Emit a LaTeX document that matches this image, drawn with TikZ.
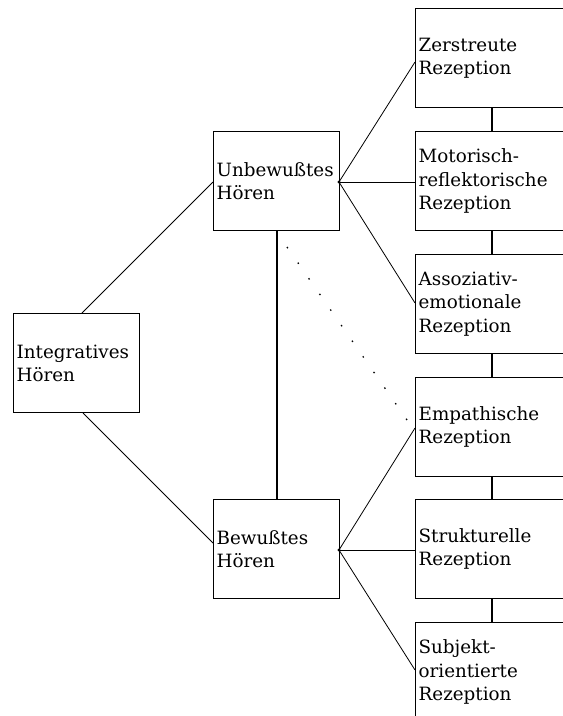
\documentclass[tikz,border=0pt]{standalone}
\usepackage{fontspec}
\setmainfont{DejaVu Serif}
\begin{document}
\begin{tikzpicture}[x=1pt,y=-1pt,
  box/.style={draw, line width=1.3pt, anchor=north west, minimum width=126pt, minimum height=99pt,
    text width=120pt, inner sep=3pt, align=left, font=\fontsize{18.3}{23.5}\selectfont},
  rbox/.style={box, minimum width=170pt, text width=164pt},
  thin/.style={line width=0.8pt},
  thick/.style={line width=1.3pt}]
\useasboundingbox (0,0) rectangle (563,716);
\begin{scope}
\clip (0,0) rectangle (563,716);
\node[box] (int) at (13,313) {Integratives\\Hören};
\node[box] (unb) at (213,131) {Unbewußtes\\Hören};
\node[box] (bew) at (213,499) {Bewußtes\\Hören};
\node[rbox] (zer) at (415,8) {Zerstreute\\Rezeption};
\node[rbox] (mot) at (415,131) {Motorisch-\\reflektorische\\Rezeption};
\node[rbox] (ass) at (415,254) {Assoziativ-\\emotionale\\Rezeption};
\node[rbox] (emp) at (415,377) {Empathische\\Rezeption};
\node[rbox] (str) at (415,499) {Strukturelle\\Rezeption};
\node[rbox] (sub) at (415,622) {Subjekt-\\orientierte\\Rezeption};
\end{scope}
\coordinate (intT) at (82,313);
\coordinate (intB) at (83,413);
\coordinate (unbL) at (213,182);
\coordinate (bewL) at (213,543);
\coordinate (unbR) at (339,182);
\coordinate (bewR) at (339,550);
\coordinate (zerL) at (415,62);
\coordinate (motL) at (415,182);
\coordinate (assL) at (415,303);
\coordinate (empL) at (415,428);
\coordinate (strL) at (415,550);
\coordinate (subL) at (415,670);
\coordinate (dotA) at (287,247);
\coordinate (dotB) at (407,420);
\draw[thin] (intT) -- (unbL);
\draw[thin] (intB) -- (bewL);
\draw[thin] (unbR) -- (zerL);
\draw[thin] (unbR) -- (motL);
\draw[thin] (unbR) -- (assL);
\draw[thin] (bewR) -- (empL);
\draw[thin] (bewR) -- (strL);
\draw[thin] (bewR) -- (subL);
\fill (unbR) circle (1.6pt);
\fill (bewR) circle (1.6pt);
\draw[thick] (unb.south -| 277,0) -- (bew.north -| 277,0);
\foreach \a/\b in {zer/mot, mot/ass, ass/emp, emp/str, str/sub}
  \draw[thick] (\a.south -| 492,0) -- (\b.north -| 492,0);
\draw[line width=1.3pt, dash pattern=on 1.5pt off 17.5pt] (dotA) -- (dotB);
\end{tikzpicture}
\end{document}
